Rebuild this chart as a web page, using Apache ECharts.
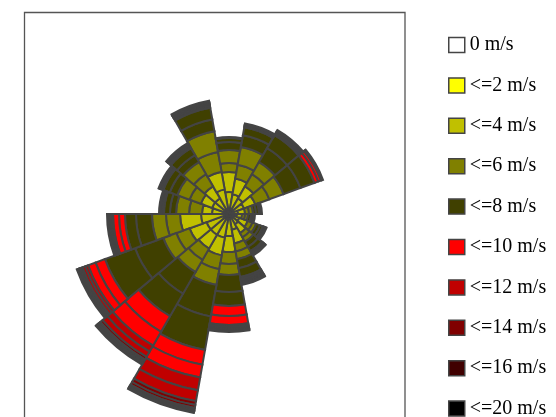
<!DOCTYPE html>
<html>
<head>
<meta charset="utf-8">
<script src="https://cdn.jsdelivr.net/npm/echarts@6/dist/echarts.min.js"></script>
<style>
  html, body { margin: 0; padding: 0; background: #ffffff; }
  #chart { width: 556px; height: 417px; }
</style>
</head>
<body>
<div id="chart"></div>
<script>
// Wind directions: 18 sectors of 20 degrees, clockwise from north
const directions = ['0°', '20°', '40°', '60°', '80°', '100°', '120°', '140°', '160°',
                    '180°', '200°', '220°', '240°', '260°', '280°', '300°', '320°', '340°'];

// Legend classes and their fill colours
const speedClasses = ['0 m/s', '<=2 m/s', '<=4 m/s', '<=6 m/s', '<=8 m/s',
                      '<=10 m/s', '<=12 m/s', '<=14 m/s', '<=16 m/s', '<=20 m/s'];
const classColors = ['#ffffff', '#ffff00', '#c0c000', '#808000', '#404000',
                     '#ff0000', '#c00000', '#800000', '#400000', '#000000'];

// Number of records per direction, by wind speed bin (m/s)
const calm = [0, 0, 0, 0, 0, 0, 0, 0, 0, 0, 0, 0, 0, 0, 0, 0, 0, 0];
const s01  = [2, 2, 2, 2, 2, 1, 2, 2, 2, 2, 2, 2, 2, 2, 2, 2, 2, 2];
const s02  = [3, 3, 3, 3, 2, 2, 2, 2, 3, 3, 4, 4, 4, 3, 3, 3, 3, 3];
const s03  = [17, 15, 13, 11, 5, 5, 7, 8, 11, 17, 18, 18, 18, 23, 12, 13, 13, 20];
const s04  = [20, 16, 14, 12, 7, 5, 9, 10, 14, 16, 18, 16, 18, 21, 10, 12, 14, 18];
const s05  = [9, 14, 14, 15, 4, 3, 5, 5, 8, 12, 14, 13, 14, 14, 13, 12, 14, 20];
const s06  = [13, 18, 14, 15, 4, 3, 4, 5, 8, 11, 16, 14, 14, 14, 13, 13, 14, 21];
const s07  = [8, 12, 16, 18, 3, 3, 4, 6, 9, 17, 32, 25, 30, 16, 6, 8, 8, 12];
const s08  = [4, 8, 15, 15, 3, 2, 3, 5, 9, 14, 34, 26, 32, 11, 6, 7, 8, 12];
const s09  = [1, 1, 2, 4, 1, 1, 1, 1, 2, 10, 15, 18, 10, 6, 1, 1, 1, 2];
const s10  = [0, 1, 2, 3, 0, 0, 1, 1, 2, 9, 13, 16, 8, 6, 2, 2, 2, 1];
const s11  = [0, 1, 1, 1, 1, 1, 1, 1, 1, 2, 13, 7, 3, 2, 1, 1, 1, 1];
const s12  = [0, 1, 0, 1, 1, 0, 1, 1, 1, 2, 11, 6, 3, 1, 1, 1, 1, 1];
const s13  = [0, 0, 1, 0, 0, 0, 0, 1, 1, 1, 4, 3, 2, 1, 0, 0, 1, 1];
const s14  = [0, 0, 0, 0, 0, 0, 0, 0, 1, 1, 3, 2, 1, 1, 0, 0, 0, 1];
const s15  = [0, 0, 0, 0, 0, 0, 0, 0, 0, 1, 2, 1, 1, 0, 0, 0, 0, 0];
const s16  = [0, 0, 0, 0, 0, 0, 0, 0, 0, 0, 1, 1, 1, 0, 0, 0, 0, 0];
const s18  = [0, 0, 0, 0, 0, 0, 0, 0, 0, 0, 1, 1, 0, 0, 0, 0, 0, 0];
const s20  = [0, 0, 0, 0, 0, 0, 0, 0, 0, 0, 1, 1, 1, 1, 0, 0, 0, 0];

// Each speed bin, paired with the legend class it belongs to
const bins = [
  [0, calm], [1, s01], [1, s02], [2, s03], [2, s04], [3, s05], [3, s06],
  [4, s07], [4, s08], [5, s09], [5, s10], [6, s11], [6, s12],
  [7, s13], [7, s14], [8, s15], [8, s16], [9, s18], [9, s20]
];

const chart = echarts.init(document.getElementById('chart'), null, { renderer: 'canvas' });

// Empty bins are left out so they do not draw zero-height outlines
const series = bins.map(([cls, values]) => ({
  type: 'bar',
  coordinateSystem: 'polar',
  stack: 'rose',
  name: speedClasses[cls],
  data: values.map(v => (v > 0 ? v : '-')),
  barCategoryGap: '0%',
  itemStyle: { color: classColors[cls], borderColor: '#444444', borderWidth: 2 },
  emphasis: { disabled: true },
  silent: true
}));

chart.setOption({
  animation: false,
  backgroundColor: '#ffffff',
  polar: { center: [229, 214], radius: 210 },
  angleAxis: {
    type: 'category',
    data: directions,
    startAngle: 100,
    clockwise: true,
    axisLine: { show: false }, axisTick: { show: false },
    axisLabel: { show: false }, splitLine: { show: false }
  },
  radiusAxis: {
    type: 'value', min: 0, max: 210,
    axisLine: { show: false }, axisTick: { show: false },
    axisLabel: { show: false }, splitLine: { show: false }
  },
  legend: {
    orient: 'vertical',
    left: 448,
    top: 34.5,
    height: 600,
    padding: 0,
    icon: 'rect',
    itemWidth: 16,
    itemHeight: 15,
    itemGap: 19.4,
    selectedMode: false,
    data: speedClasses,
    itemStyle: { borderColor: '#444444', borderWidth: 1.5 },
    textStyle: {
      fontFamily: 'Liberation Serif', fontSize: 20, color: '#000000',
      lineHeight: 15, padding: [6, 0, 0, 0]
    }
  },
  graphic: [{
    type: 'rect',
    silent: true,
    shape: { x: 24.5, y: 12.5, width: 380.5, height: 430 },
    style: { fill: 'none', stroke: '#555555', lineWidth: 1.3 }
  }],
  series: series
});
</script>
</body>
</html>
